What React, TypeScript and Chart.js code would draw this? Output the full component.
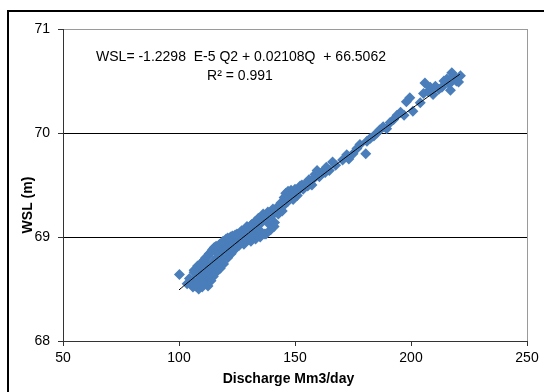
import React, { useEffect, useRef } from "react";
import { Chart, registerables } from "chart.js";

Chart.register(...registerables);

// Observed points: discharge (Mm3/day) and water surface level (m)
const discharge = [
  100.2, 103.5, 104.5, 105.8, 106.5, 107.0, 107.8, 108.2, 108.9, 109.5,
  109.8, 110.4, 110.9, 111.3, 111.8, 112.2, 112.6, 113.0, 113.5, 114.0,
  114.6, 115.2, 115.8, 116.3, 117.0, 117.5, 118.2, 118.9, 119.5, 120.3,
  120.8, 121.5, 122.2, 122.9, 123.6, 124.2, 124.9, 125.6, 126.3, 127.0,
  127.8, 128.5, 129.3, 130.0, 130.6, 131.3, 132.0, 132.8, 133.5, 134.2,
  134.9, 135.6, 136.3, 137.0, 137.6, 138.3, 139.0, 139.8, 140.5, 141.2,
  142.0, 142.8, 143.6, 144.5, 145.3, 146.0, 146.8, 147.5, 148.3, 149.2,
  150.0, 151.0, 152.2, 153.5, 154.8, 156.0, 157.3, 158.6, 159.5, 160.5,
  162.0, 163.5, 164.8, 166.2, 167.5, 170.5, 172.3, 173.2, 175.0, 176.7,
  178.0, 180.5, 181.0, 182.5, 184.0, 185.3, 186.5, 188.0, 189.5, 191.0,
  192.5, 194.0, 195.5, 197.0, 198.0, 199.5, 200.8, 204.0, 205.4, 206.0,
  207.3, 208.3, 209.5, 210.5, 212.0, 213.3, 214.2, 215.5, 216.5, 217.0,
  217.6, 218.4, 219.6, 220.5, 221.3,
  106.0, 108.5, 110.0, 112.5, 113.8, 114.8, 116.0, 117.8, 119.2, 121.0,
  122.5, 124.0, 126.0, 128.0, 131.0, 133.0, 135.0, 137.5, 139.5, 141.0,
  106.5, 108.0, 110.0, 111.5, 113.0, 114.5, 116.0, 117.5, 119.0, 121.0,
  123.0, 125.0, 127.0, 129.0, 131.0, 133.0, 135.0, 137.0, 139.0, 141.0,
  143.0, 144.0, 145.0, 147.0, 148.8, 150.5, 151.5, 153.0, 155.5, 156.6,
  158.0, 161.0, 163.0,
];
const wsl = [
  68.64, 68.55, 68.60, 68.58, 68.66, 68.53, 68.70, 68.58, 68.62, 68.74,
  68.55, 68.67, 68.78, 68.60, 68.56, 68.72, 68.82, 68.64, 68.69, 68.86,
  68.76, 68.90, 68.72, 68.80, 68.84, 68.76, 68.88, 68.80, 68.93, 68.98,
  68.86, 68.92, 69.00, 68.90, 68.96, 69.02, 68.93, 69.00, 69.04, 68.95,
  69.06, 69.02, 69.10, 68.98, 69.08, 69.12, 69.03, 69.15, 69.10, 69.18,
  69.06, 69.14, 69.22, 69.03, 69.18, 69.24, 69.12, 69.20, 69.27, 69.14,
  69.28, 69.22, 69.30, 69.25, 69.38, 69.42, 69.34, 69.39, 69.45, 69.36,
  69.46, 69.40, 69.49, 69.46, 69.52, 69.55, 69.50, 69.60, 69.64, 69.58,
  69.63, 69.67, 69.64, 69.72, 69.69, 69.74, 69.79, 69.75, 69.80, 69.85,
  69.89, 69.80, 69.92, 69.95, 69.97, 70.00, 70.03, 70.06, 70.04, 70.10,
  70.13, 70.17, 70.20, 70.17, 70.30, 70.34, 70.21, 70.29, 70.38, 70.48,
  70.40, 70.44, 70.37, 70.45, 70.42, 70.44, 70.50, 70.52, 70.47, 70.41,
  70.58, 70.55, 70.50, 70.49, 70.55,
  68.52, 68.50, 68.52, 68.53, 68.58, 68.62, 68.66, 68.70, 68.74, 68.80,
  68.84, 68.88, 68.92, 68.93, 68.96, 68.98, 69.00, 69.03, 69.07, 69.10,
  68.68, 68.72, 68.76, 68.80, 68.84, 68.88, 68.91, 68.93, 68.96, 68.99,
  69.01, 69.03, 69.06, 69.09, 69.11, 69.14, 69.17, 69.20, 69.23, 69.25,
  69.27, 69.33, 69.30, 69.44, 69.40, 69.43, 69.45, 69.50, 69.49, 69.51,
  69.56, 69.61, 69.62,
];

const xTicks = [50, 100, 150, 200, 250];
const yTicks = [68, 69, 70, 71];

// Fitted trendline shown on the chart: WSL = a*Q^2 + b*Q + c
const trendA = -1.2298e-5;
const trendB = 0.02108;
const trendC = 66.5062;
const trendStart = 100;
const trendEnd = 221;

const equationLines = ["WSL= -1.2298  E-5 Q2 + 0.02108Q  + 66.5062", "R\u00b2 = 0.991"];
const xTitle = "Discharge Mm3/day";
const yTitle = "WSL (m)";

const FONT = "'Liberation Sans', Arial, sans-serif";

export default function App() {
  const ref = useRef<HTMLCanvasElement | null>(null);

  useEffect(() => {
    const canvas = ref.current;
    if (!canvas) return;

    const points = discharge.map((q, i) => ({ x: q, y: wsl[i] }));
    const trend: { x: number; y: number }[] = [];
    for (let q = trendStart; q <= trendEnd; q += 1) {
      trend.push({ x: q, y: trendA * q * q + trendB * q + trendC });
    }

    const decor = {
      id: "decor",
      beforeDraw(chart: any) {
        const ctx = chart.ctx;
        ctx.save();
        ctx.fillStyle = "#ffffff";
        ctx.fillRect(0, 0, chart.width, chart.height);
        ctx.strokeStyle = "#000000";
        ctx.lineWidth = 2;
        ctx.strokeRect(8, 11, 1000, 1000);
        ctx.restore();
      },
      afterDraw(chart: any) {
        const ctx = chart.ctx;
        ctx.save();
        ctx.fillStyle = "#000000";
        ctx.textAlign = "center";
        ctx.textBaseline = "alphabetic";
        ctx.font = `14px ${FONT}`;
        ctx.fillText(equationLines[0], 241, 61);
        ctx.fillText(equationLines[1], 240, 80);
        ctx.font = `bold 14px ${FONT}`;
        ctx.fillText(xTitle, 288.5, 383);
        ctx.translate(31.5, 205);
        ctx.rotate(-Math.PI / 2);
        ctx.fillText(yTitle, 0, 0);
        ctx.restore();
      },
    };

    const chart = new Chart(canvas, {
      type: "scatter",
      data: {
        datasets: [
          {
            label: "trend",
            data: trend,
            showLine: true,
            borderColor: "#000000",
            borderWidth: 1,
            pointRadius: 0,
            tension: 0,
            fill: false,
          } as any,
          {
            label: "WSL",
            data: points,
            pointStyle: "rectRot",
            pointRadius: 5.5,
            backgroundColor: "#4a7ebb",
            borderColor: "#4a7ebb",
            borderWidth: 0,
          } as any,
        ],
      },
      options: {
        responsive: false,
        animation: false,
        events: [],
        layout: { padding: { left: 0, top: 29, right: 17, bottom: 0 } },
        plugins: { legend: { display: false }, tooltip: { enabled: false } },
        scales: {
          x: {
            type: "linear",
            min: 50,
            max: 250,
            afterBuildTicks: (s: any) => {
              s.ticks = xTicks.map((v) => ({ value: v }));
            },
            afterFit: (s: any) => {
              s.height = 51;
            },
            grid: {
              drawOnChartArea: true,
              color: (c: any) => (c.tick && c.tick.value === 250 ? "#9a9a9a" : "rgba(0,0,0,0)"),
              tickColor: "#333333",
              tickLength: 5,
              lineWidth: 1,
            },
            border: { color: "#333333", width: 1 },
            ticks: {
              font: { family: FONT, size: 14 },
              color: "#000000",
              padding: 4,
              maxRotation: 0,
              autoSkip: false,
            },
          },
          y: {
            type: "linear",
            min: 68,
            max: 71,
            afterBuildTicks: (s: any) => {
              s.ticks = yTicks.map((v) => ({ value: v }));
            },
            afterFit: (s: any) => {
              s.width = 63;
            },
            grid: {
              color: (c: any) => (c.tick && c.tick.value === 71 ? "#9a9a9a" : "#000000"),
              tickColor: "#333333",
              tickLength: 5,
              lineWidth: 1,
            },
            border: { color: "#333333", width: 1 },
            ticks: {
              font: { family: FONT, size: 14 },
              color: "#000000",
              padding: 8,
              autoSkip: false,
            },
          },
        },
      },
      plugins: [decor],
    } as any);

    return () => chart.destroy();
  }, []);

  return (
    <canvas
      ref={ref}
      width={544}
      height={392}
      style={{ position: "fixed", left: 0, top: 0, width: 544, height: 392 }}
    />
  );
}
